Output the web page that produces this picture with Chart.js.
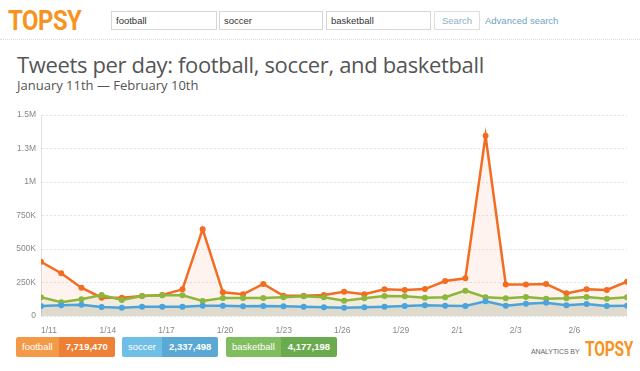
<!DOCTYPE html>
<html>
<head>
<meta charset="utf-8">
<script src="https://cdn.jsdelivr.net/npm/chart.js@4.4.1/dist/chart.umd.min.js"></script>
<style>
    html, body { margin: 0; padding: 0; background: #fff; }
    body { width: 640px; height: 371px; position: relative; overflow: hidden; font-family: "Liberation Sans", Arial, sans-serif; }
    .logo { position: absolute; left: 8px; top: 4px; font-family: Roboto, sans-serif; font-weight: 700; font-size: 28px; color: #f7931e; transform: scaleX(0.85); transform-origin: left top; letter-spacing: -0.5px; }
    .box { position: absolute; top: 11px; height: 19px; border: 1px solid #d6d6d6; box-sizing: border-box; font-size: 9.5px; color: #333; line-height: 17px; padding-left: 4px; }
    .btn { position: absolute; top: 11px; left: 434px; width: 46px; height: 19px; border: 1px solid #dedede; box-sizing: border-box; font-size: 9.5px; color: #8fb0c0; line-height: 17px; text-align: center; }
    .adv { position: absolute; top: 11px; left: 485px; font-size: 9.5px; color: #6fa6bd; line-height: 19px; }
    .sep { position: absolute; top: 39px; left: 0; width: 640px; border-top: 1px dotted #dcdcdc; }
    .title { position: absolute; left: 17px; top: 53px; font-family: "Open Sans", sans-serif; font-size: 22px; letter-spacing: -0.35px; line-height: 22px; color: #555; white-space: nowrap; }
    .subtitle { position: absolute; left: 17px; top: 77px; font-family: "Open Sans", sans-serif; font-size: 13px; line-height: 16px; color: #555; white-space: nowrap; }
    .chart-wrap { position: absolute; left: 0; top: 100px; width: 640px; height: 235px; }
    .legend { position: absolute; left: 16px; top: 337px; height: 20px; }
    .tag { position: absolute; top: 0; height: 20px; border-radius: 2px; overflow: hidden; font-size: 9.5px; line-height: 20px; color: #fff; white-space: nowrap; }
    .tag span { display: inline-block; height: 20px; padding: 0 6px; }
    .tag .num { font-weight: 700; padding: 0 7px; }
    .by { position: absolute; left: 531px; top: 348px; font-size: 7px; color: #666; letter-spacing: -0.1px; }
    .logo-small { position: absolute; left: 585px; top: 337px; font-family: Roboto, sans-serif; font-weight: 700; font-size: 21px; color: #f7931e; transform: scaleX(0.74); transform-origin: left top; letter-spacing: -0.3px; }
</style>
</head>
<body>
<div class="logo">TOPSY</div>
<div class="box" style="left:111px;width:106px;">football</div>
<div class="box" style="left:219px;width:104px;">soccer</div>
<div class="box" style="left:326px;width:105px;">basketball</div>
<div class="btn">Search</div>
<div class="adv">Advanced search</div>
<div class="sep"></div>
<div class="title">Tweets per day: football, soccer, and basketball</div>
<div class="subtitle">January 11th — February 10th</div>
<div class="chart-wrap"><canvas id="tweets_chart"></canvas></div>
<div class="legend" id="legend"></div>
<div class="by">ANALYTICS BY</div>
<div class="logo-small">TOPSY</div>
<script>
// data (30 samples between Jan 11 and Feb 10)
const series_names = ["football", "soccer", "basketball"];
const series_totals = ["7,719,470", "2,337,498", "4,177,198"];
const tick_labels = ["1/11", "1/14", "1/17", "1/20", "1/23", "1/26", "1/29", "2/1", "2/3", "2/6"];
const y_tick_labels = ["0", "250K", "500K", "750K", "1M", "1.3M", "1.5M"];

const football = [405000, 319000, 211000, 137000, 137000, 149000, 157000, 199000, 648000, 177000,
    162000, 239000, 151000, 151000, 157000, 181000, 162000, 199000, 194000, 201000,
    261000, 281000, 1345000, 236000, 236000, 239000, 169000, 199000, 194000, 256000];
const soccer = [75000, 80000, 84000, 67000, 62000, 69000, 69000, 69000, 77000, 77000,
    72000, 75000, 72000, 69000, 65000, 62000, 65000, 69000, 75000, 80000,
    77000, 75000, 110000, 77000, 92000, 99000, 80000, 90000, 75000, 77000];
const basketball = [140000, 102000, 125000, 157000, 119000, 149000, 154000, 154000, 112000, 134000,
    134000, 134000, 140000, 147000, 140000, 114000, 132000, 149000, 147000, 137000,
    140000, 189000, 140000, 132000, 142000, 129000, 132000, 142000, 129000, 140000];

var TweetsChart = (function() {
    const line_colors = ["#f26c22", "#4aa3dc", "#8cb63c"];
    const fill_colors = ["rgba(242, 108, 34, 0.08)", "rgba(100, 110, 120, 0.14)", "rgba(140, 160, 60, 0.10)"];
    const tag_colors = [["#f39a48", "#ed8034"], ["#6fbee6", "#5aa8d4"], ["#7fbd5f", "#6bab50"]];

    // the samples span 30 days, so a tick every 3 days lands every 3 * 29/30 samples
    const day_step = (football.length - 1) / 30;

    function toPoints(values) {
        return values.map((v, i) => ({ x: i, y: v }));
    }

    function makeDataset(idx, values) {
        return {
            label: series_names[idx],
            data: toPoints(values),
            borderColor: line_colors[idx],
            backgroundColor: fill_colors[idx],
            pointBackgroundColor: line_colors[idx],
            pointBorderWidth: 0,
            pointRadius: 3,
            borderWidth: 2.5,
            fill: "origin",
            tension: 0,
        };
    }

    function render() {
        const ctx = document.getElementById("tweets_chart").getContext("2d");
        new Chart(ctx, {
            type: "line",
            data: {
                // drawn last-to-first, so football ends up underneath
                datasets: [
                    makeDataset(1, soccer),
                    makeDataset(2, basketball),
                    makeDataset(0, football),
                ],
            },
            options: {
                responsive: true,
                maintainAspectRatio: false,
                animation: false,
                layout: { padding: { top: 15, right: 13, left: 0, bottom: 0 } },
                plugins: { legend: { display: false }, tooltip: { enabled: false } },
                scales: {
                    x: {
                        type: "linear",
                        min: 0,
                        max: football.length - 1,
                        afterBuildTicks: function(scale) {
                            scale.ticks = tick_labels.map((t, k) => ({ value: k * 3 * day_step }));
                        },
                        afterFit: function(scale) { scale.height = 19; },
                        grid: { display: false },
                        border: { display: false },
                        ticks: {
                            autoSkip: false,
                            maxRotation: 0,
                            align: "start",
                            padding: 2,
                            color: "#888",
                            font: { family: "Liberation Sans", size: 8.5 },
                            callback: function(value, index) { return tick_labels[index]; },
                        },
                    },
                    y: {
                        min: 0,
                        max: 1500000,
                        afterFit: function(scale) { scale.width = 41; },
                        grid: { color: "#e4e4e4", drawTicks: false },
                        border: { display: true, color: "#e2e2e2", dash: [2, 2] },
                        ticks: {
                            stepSize: 250000,
                            padding: 5,
                            color: "#888",
                            font: { family: "Liberation Sans", size: 8.5 },
                            callback: function(value, index) { return y_tick_labels[index]; },
                        },
                    },
                },
            },
        });
    }

    function renderLegend() {
        const legend = document.getElementById("legend");
        const lefts = [0, 106, 210];
        series_names.forEach((name, i) => {
            const tag = document.createElement("div");
            tag.className = "tag";
            tag.style.left = lefts[i] + "px";
            tag.innerHTML = '<span style="background:' + tag_colors[i][0] + '">' + name + '</span>' +
                '<span class="num" style="background:' + tag_colors[i][1] + '">' + series_totals[i] + '</span>';
            legend.appendChild(tag);
        });
    }

    return { render: render, renderLegend: renderLegend };
})();

TweetsChart.renderLegend();
TweetsChart.render();
</script>
</body>
</html>
